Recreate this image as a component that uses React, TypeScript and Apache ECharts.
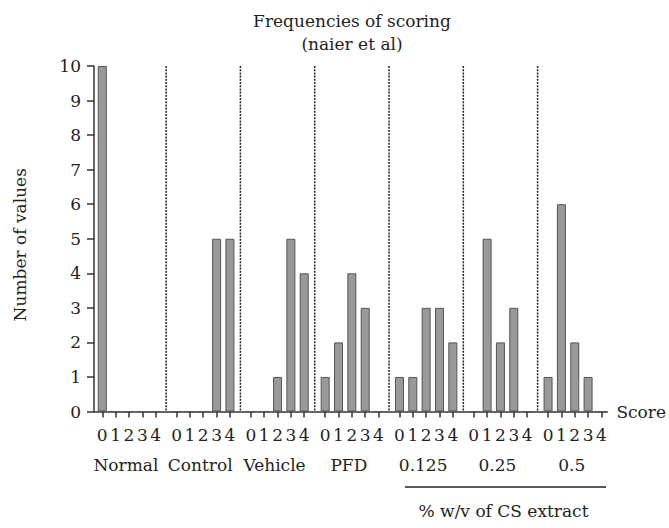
import React, { useEffect, useRef } from "react";
import * as echarts from "echarts";

const groupNames = ["Normal", "Control", "Vehicle", "PFD", "0.125", "0.25", "0.5"];
const scoreLabels = ["0", "1", "2", "3", "4"];
const normalValues = [10, 0, 0, 0, 0];
const controlValues = [0, 0, 0, 5, 5];
const vehicleValues = [0, 0, 1, 5, 4];
const pfdValues = [1, 2, 4, 3, 0];
const cs0125Values = [1, 1, 3, 3, 2];
const cs025Values = [0, 5, 2, 3, 0];
const cs05Values = [1, 6, 2, 1, 0];
const yTicks = { min: 0, max: 10, interval: 1 };
const titleLines = ["Frequencies of scoring", "(naier et al)"];
const yAxisTitle = "Number of values";
const xAxisTitle = "Score";
const bracketTitle = "% w/v of CS extract";

const groupValues = [
  normalValues,
  controlValues,
  vehicleValues,
  pfdValues,
  cs0125Values,
  cs025Values,
  cs05Values,
];

const FONT = "DejaVu Serif";
const FS = 17;
const TEXT = "#231f20";
const AXIS = "#333333";

// layout
const AX_LEFT = 94;
const AX_RIGHT = 610;
const Y_TOP = 66;
const Y_BOT = 411.5;
const G_STEP = 74.3;
const G_W = 66.7;
const G0_LEFT = 95.6;

export default function App() {
  const ref = useRef<HTMLDivElement>(null);
  useEffect(() => {
    document.body.style.margin = "0";
    if (!ref.current) return;
    const chart = echarts.init(ref.current, null, { renderer: "svg" });
    const plotH = Y_BOT - Y_TOP;

    const grids: any[] = [
      { left: AX_LEFT, top: Y_TOP, width: AX_RIGHT - AX_LEFT, height: plotH },
    ];
    const xAxes: any[] = [
      {
        type: "value",
        gridIndex: 0,
        min: 0,
        max: 1,
        axisLine: { show: true, lineStyle: { color: AXIS, width: 1.5 } },
        axisTick: { show: false },
        axisLabel: { show: false },
        splitLine: { show: false },
        name: xAxisTitle,
        nameLocation: "end",
        nameGap: 9,
        nameTextStyle: { fontFamily: FONT, fontSize: FS, color: TEXT, verticalAlign: "middle" },
      },
    ];
    const yAxes: any[] = [
      {
        type: "value",
        gridIndex: 0,
        min: yTicks.min,
        max: yTicks.max,
        interval: yTicks.interval,
        axisLine: { show: true, lineStyle: { color: AXIS, width: 1.5 } },
        axisTick: { show: true, length: 7, lineStyle: { color: AXIS, width: 1.5 } },
        axisLabel: { fontFamily: FONT, fontSize: FS, color: TEXT, margin: 13 },
        splitLine: { show: false },
        name: yAxisTitle,
        nameLocation: "middle",
        nameGap: 66,
        nameTextStyle: { fontFamily: FONT, fontSize: FS, color: TEXT, padding: [0, 12, 0, 0] },
      },
    ];
    const series: any[] = [];
    const graphics: any[] = [];

    groupValues.forEach((vals, g) => {
      const left = G0_LEFT + g * G_STEP;
      grids.push({ left, top: Y_TOP, width: G_W, height: plotH });
      xAxes.push({
        type: "category",
        gridIndex: g + 1,
        data: scoreLabels,
        axisLine: { show: false },
        axisTick: { show: true, alignWithLabel: true, length: 6, lineStyle: { color: AXIS, width: 1.5 } },
        axisLabel: { fontFamily: FONT, fontSize: FS, color: TEXT, margin: 15, interval: 0 },
        name: groupNames[g],
        nameLocation: "middle",
        nameGap: 45,
        nameTextStyle: { fontFamily: FONT, fontSize: FS, color: TEXT, padding: [0, 6, 0, 0] },
      });
      yAxes.push({
        type: "value",
        gridIndex: g + 1,
        min: yTicks.min,
        max: yTicks.max,
        show: false,
      });
      series.push({
        type: "bar",
        xAxisIndex: g + 1,
        yAxisIndex: g + 1,
        data: vals,
        barWidth: 9,
        itemStyle: { color: "#999999", borderColor: "#555555", borderWidth: 1 },
        silent: true,
      });
      if (g > 0) {
        const sx = left - (G_STEP - G_W) / 2;
        graphics.push({
          type: "line",
          shape: { x1: sx, y1: Y_TOP, x2: sx, y2: Y_BOT },
          style: { stroke: "#222222", lineWidth: 1.5, lineDash: [2, 1.2] },
          silent: true,
        });
      }
    });

    const tstyle = (text: string) => ({
      text,
      fontFamily: FONT,
      fontSize: FS,
      fill: TEXT,
      textAlign: "center",
      textVerticalAlign: "middle",
    });

    graphics.push(
      { type: "text", x: (AX_LEFT + AX_RIGHT) / 2, y: 21, style: tstyle(titleLines[0]) },
      { type: "text", x: (AX_LEFT + AX_RIGHT) / 2, y: 44, style: tstyle(titleLines[1]) },
      {
        type: "line",
        shape: { x1: 405, y1: 487, x2: 606, y2: 487 },
        style: { stroke: "#222222", lineWidth: 1.5 },
      },
      { type: "text", x: 503.5, y: 511, style: tstyle(bracketTitle) }
    );

    chart.setOption({
      animation: false,
      backgroundColor: "#ffffff",
      textStyle: { fontFamily: FONT },
      grid: grids,
      xAxis: xAxes,
      yAxis: yAxes,
      series,
      graphic: graphics,
    });
    return () => chart.dispose();
  }, []);
  return <div ref={ref} style={{ width: 669, height: 528 }} />;
}
